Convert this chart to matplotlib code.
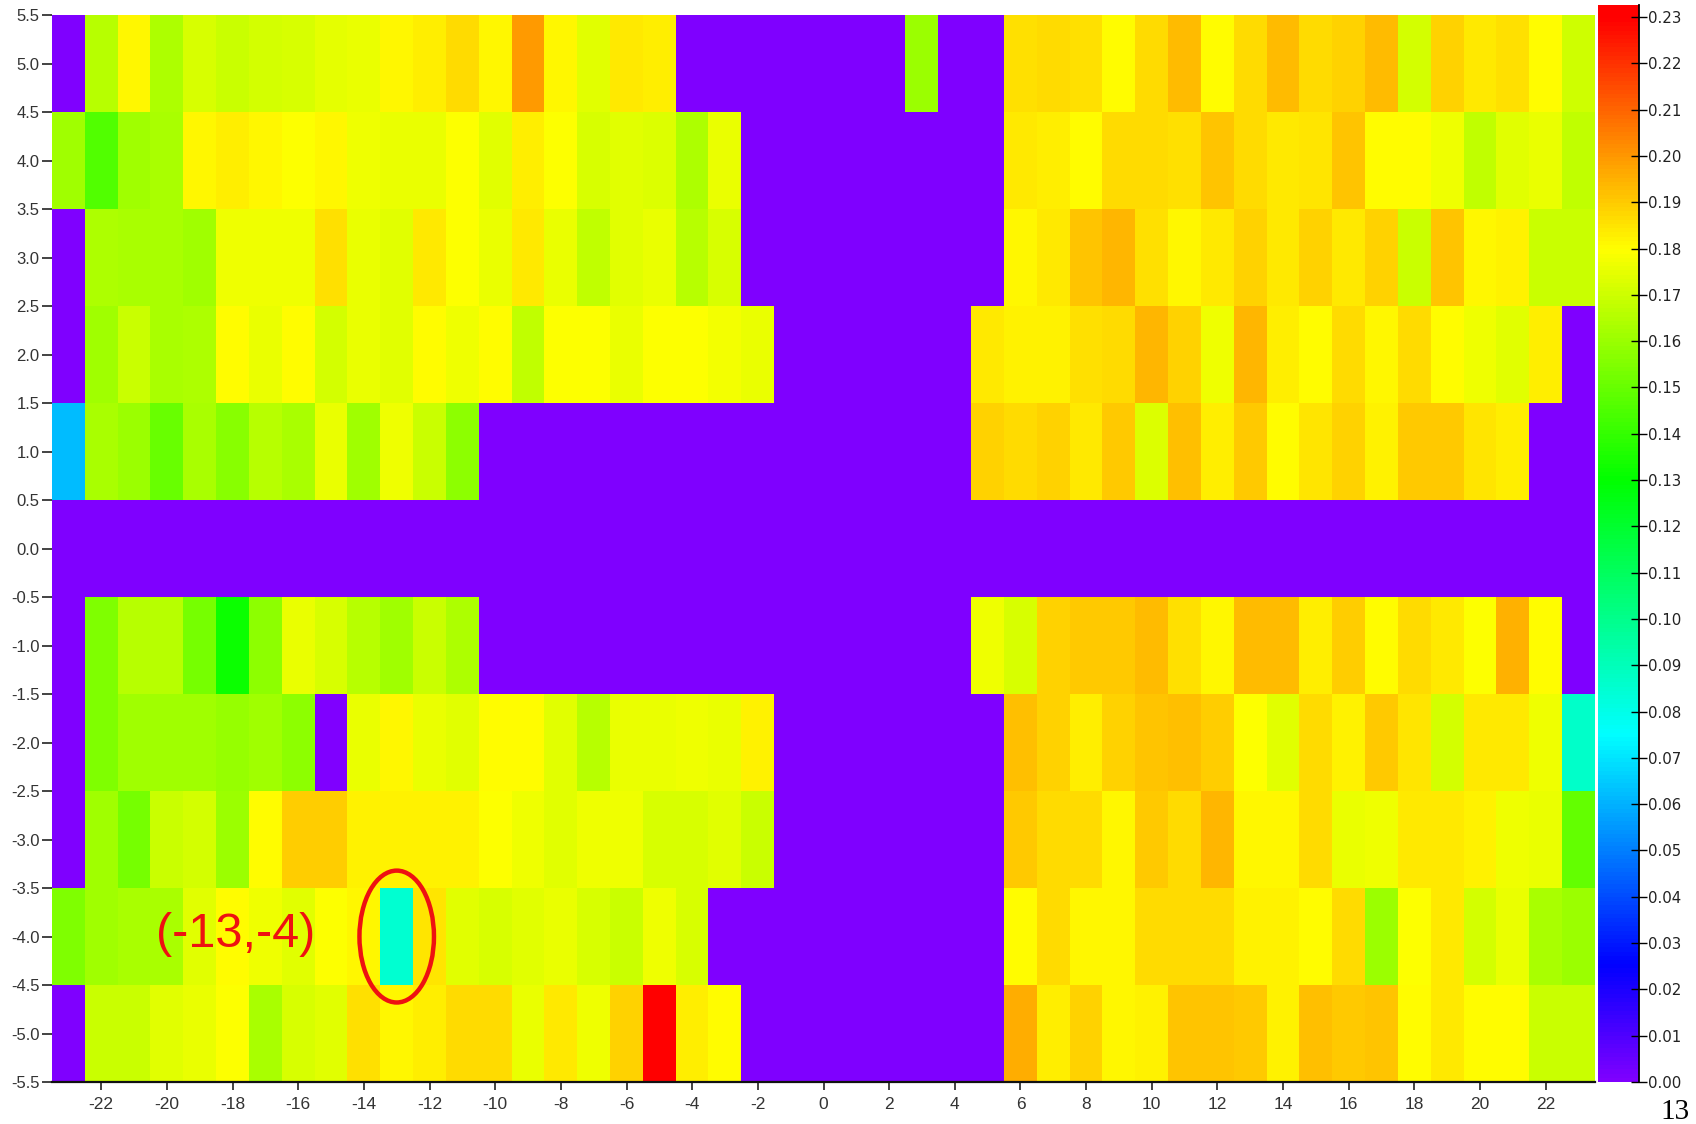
"""Heat map of cell values on a 47 x 11 grid with a rainbow colour bar."""

import matplotlib

matplotlib.use("Agg")
import matplotlib.pyplot as plt
import numpy as np
from matplotlib.colors import LinearSegmentedColormap
from matplotlib.patches import Ellipse

# grid positions (cell centres)
x_values = list(range(-23, 24))
y_values = [5, 4, 3, 2, 1, 0, -1, -2, -3, -4, -5]

# one list per row, x = -23 ... 23
row_p5 = [0, 0.166, 0.181, 0.164, 0.172, 0.169, 0.171, 0.172, 0.175, 0.176,
          0.181, 0.183, 0.187, 0.181, 0.199, 0.181, 0.174, 0.184, 0.183,
          0, 0, 0, 0, 0, 0, 0,
          0.160,
          0, 0,
          0.186, 0.187, 0.186, 0.180, 0.187, 0.193, 0.180, 0.187, 0.193,
          0.187, 0.188, 0.193, 0.171, 0.188, 0.184, 0.186, 0.180, 0.170]
row_p4 = [0.161, 0.146, 0.161, 0.163, 0.181, 0.183, 0.181, 0.179, 0.181, 0.177,
          0.176, 0.176, 0.179, 0.174, 0.183, 0.179, 0.172, 0.174, 0.173, 0.164,
          0.176,
          0, 0, 0, 0, 0, 0, 0, 0,
          0.184, 0.183, 0.180, 0.187, 0.187, 0.186, 0.191, 0.187, 0.184,
          0.185, 0.191, 0.180, 0.180, 0.177, 0.168, 0.174, 0.176, 0.168]
row_p3 = [0, 0.164, 0.163, 0.163, 0.161, 0.177, 0.177, 0.177, 0.186, 0.176,
          0.174, 0.184, 0.179, 0.176, 0.184, 0.176, 0.168, 0.174, 0.176, 0.166,
          0.172,
          0, 0, 0, 0, 0, 0, 0, 0,
          0.181, 0.184, 0.191, 0.194, 0.186, 0.181, 0.184, 0.188, 0.184,
          0.188, 0.184, 0.188, 0.169, 0.191, 0.181, 0.182, 0.169, 0.169]
row_p2 = [0, 0.161, 0.169, 0.163, 0.164, 0.180, 0.176, 0.180, 0.171, 0.176,
          0.174, 0.180, 0.177, 0.180, 0.168, 0.179, 0.179, 0.176, 0.179, 0.179,
          0.178, 0.176,
          0, 0, 0, 0, 0, 0,
          0.184, 0.182, 0.182, 0.186, 0.187, 0.194, 0.188, 0.177, 0.194,
          0.183, 0.180, 0.187, 0.181, 0.187, 0.180, 0.177, 0.174, 0.183,
          0]
row_p1 = [0.062, 0.163, 0.160, 0.150, 0.163, 0.157, 0.166, 0.163, 0.176,
          0.161, 0.177, 0.169, 0.158,
          0, 0, 0, 0, 0, 0, 0, 0, 0, 0, 0, 0, 0, 0, 0,
          0.188, 0.187, 0.188, 0.184, 0.190, 0.173, 0.192, 0.183, 0.190,
          0.180, 0.185, 0.188, 0.182, 0.190, 0.190, 0.185, 0.183,
          0, 0]
row_0 = [0] * 47
row_m1 = [0,
          0.155, 0.166, 0.166, 0.153, 0.132, 0.158, 0.176, 0.172, 0.166,
          0.161, 0.169, 0.164,
          0, 0, 0, 0, 0, 0, 0, 0, 0, 0, 0, 0, 0, 0, 0,
          0.177, 0.172, 0.188, 0.190, 0.190, 0.193, 0.186, 0.181, 0.193,
          0.193, 0.183, 0.189, 0.180, 0.187, 0.184, 0.179, 0.195, 0.180,
          0]
row_m2 = [0,
          0.155, 0.161, 0.161, 0.161, 0.159, 0.161, 0.158,
          0,
          0.176, 0.181, 0.176, 0.174, 0.180, 0.180, 0.174, 0.166, 0.176,
          0.176, 0.177, 0.176, 0.182,
          0, 0, 0, 0, 0, 0, 0,
          0.192, 0.188, 0.183, 0.188, 0.191, 0.192, 0.189, 0.179, 0.174,
          0.187, 0.182, 0.190, 0.185, 0.171, 0.184, 0.184, 0.177, 0.087]
row_m3 = [0,
          0.161, 0.153, 0.169, 0.171, 0.160, 0.180, 0.189, 0.189, 0.182,
          0.182, 0.182, 0.182, 0.179, 0.177, 0.174, 0.177, 0.177, 0.172,
          0.172, 0.174, 0.169,
          0, 0, 0, 0, 0, 0, 0,
          0.190, 0.187, 0.187, 0.181, 0.190, 0.187, 0.194, 0.181, 0.181,
          0.187, 0.176, 0.177, 0.184, 0.184, 0.182, 0.177, 0.176, 0.149]
row_m4 = [0.155, 0.161, 0.163, 0.163, 0.174, 0.180, 0.177, 0.174, 0.179,
          0.181, 0.085, 0.185, 0.174, 0.172, 0.174, 0.176, 0.172, 0.169,
          0.177, 0.172,
          0, 0, 0, 0, 0, 0, 0, 0, 0,
          0.180, 0.187, 0.181, 0.181, 0.187, 0.187, 0.187, 0.182, 0.182,
          0.180, 0.187, 0.160, 0.179, 0.184, 0.171, 0.176, 0.163, 0.160]
row_m5 = [0,
          0.169, 0.169, 0.174, 0.176, 0.179, 0.163, 0.172, 0.174, 0.186,
          0.181, 0.183, 0.187, 0.187, 0.176, 0.184, 0.177, 0.188, 0.2325,
          0.183, 0.180,
          0, 0, 0, 0, 0, 0, 0, 0,
          0.196, 0.183, 0.188, 0.181, 0.182, 0.191, 0.191, 0.190, 0.182,
          0.192, 0.190, 0.191, 0.180, 0.184, 0.180, 0.180, 0.169, 0.169]

x_ticks = [-22, -20, -18, -16, -14, -12, -10, -8, -6, -4, -2, 0, 2, 4, 6, 8,
           10, 12, 14, 16, 18, 20, 22]
y_ticks = [-5.5, -5.0, -4.5, -4.0, -3.5, -3.0, -2.5, -2.0, -1.5, -1.0, -0.5,
           0.0, 0.5, 1.0, 1.5, 2.0, 2.5, 3.0, 3.5, 4.0, 4.5, 5.0, 5.5]
cbar_ticks = [0.00, 0.01, 0.02, 0.03, 0.04, 0.05, 0.06, 0.07, 0.08, 0.09,
              0.10, 0.11, 0.12, 0.13, 0.14, 0.15, 0.16, 0.17, 0.18, 0.19,
              0.20, 0.21, 0.22, 0.23]
vmin, vmax = 0.0, 0.2325

marked_cell = (-13, -4)
marked_label = "(-13,-4)"

grid = np.array([row_p5, row_p4, row_p3, row_p2, row_p1, row_0,
                 row_m1, row_m2, row_m3, row_m4, row_m5])

# violet -> blue -> cyan -> green -> yellow -> red
stops = [
    (0.0, "#7F00FF"),
    (0.025 / vmax, "#0000FF"),
    (0.075 / vmax, "#00FFFF"),
    (0.13 / vmax, "#00FF00"),
    (0.18 / vmax, "#FFFF00"),
    (0.23 / vmax, "#FF0000"),
    (1.0, "#FF0000"),
]
cmap = LinearSegmentedColormap.from_list("origin_rainbow", stops)

W, H = 1696, 1124
fig = plt.figure(figsize=(W / 100, H / 100), dpi=100)
fig.patch.set_facecolor("white")

ax = fig.add_axes([52 / W, (H - 1082) / H, 1543 / W, (1082 - 15.4) / H])
cax = fig.add_axes([1598 / W, (H - 1082) / H, 41 / W, (1082 - 5.4) / H])

half = 0.5
image = ax.imshow(
    grid,
    cmap=cmap,
    vmin=vmin,
    vmax=vmax,
    aspect="auto",
    origin="upper",
    interpolation="nearest",
    extent=(min(x_values) - half, max(x_values) + half,
            min(y_values) - half, max(y_values) + half),
)
ax.set_xlim(min(x_values) - half, max(x_values) + half)
ax.set_ylim(min(y_values) - half, max(y_values) + half)

ax.set_xticks(x_ticks, [str(v) for v in x_ticks])
ax.set_yticks(y_ticks, [f"{v:.1f}" for v in y_ticks])
ax.tick_params(axis="x", direction="out", length=6, width=1.2, color="#222222",
               labelsize=12.5, labelcolor="#333333", pad=5)
ax.tick_params(axis="y", direction="out", length=7, width=1.2, color="#222222",
               labelsize=12, labelcolor="#333333", pad=2)
for t in ax.get_xticklabels() + ax.get_yticklabels():
    t.set_fontfamily("Liberation Sans")

for side in ("top", "right", "left"):
    ax.spines[side].set_visible(False)
ax.spines["bottom"].set_color("#111111")
ax.spines["bottom"].set_linewidth(1.6)

# highlighted cell
ax.add_patch(Ellipse(marked_cell, width=2.27, height=1.36, fill=False,
                     edgecolor="#EE1111", linewidth=3.2, zorder=5))
ax.text(marked_cell[0] - 4.9, marked_cell[1] + 0.02, marked_label,
        color="#EE1111", fontsize=35, fontfamily="Liberation Sans",
        ha="center", va="center", zorder=5)

cbar = fig.colorbar(image, cax=cax, ticks=cbar_ticks)
cbar.outline.set_visible(False)
cax.set_ylim(vmin, vmax)
cax.yaxis.set_ticklabels([f"{v:.2f}" for v in cbar_ticks])
cax.tick_params(axis="y", direction="inout", length=11, width=1.0,
                color="black", labelsize=10.8, labelcolor="#222222", pad=1)
cax.plot([1, 1], [0, 1], transform=cax.transAxes, color="black",
         linewidth=1.3, clip_on=False)

fig.text(1675 / W, 1 - 1112 / H, "13", fontsize=21,
         fontfamily="Liberation Serif", ha="center", va="center")

fig.savefig("out.png", dpi=100)
plt.close(fig)
